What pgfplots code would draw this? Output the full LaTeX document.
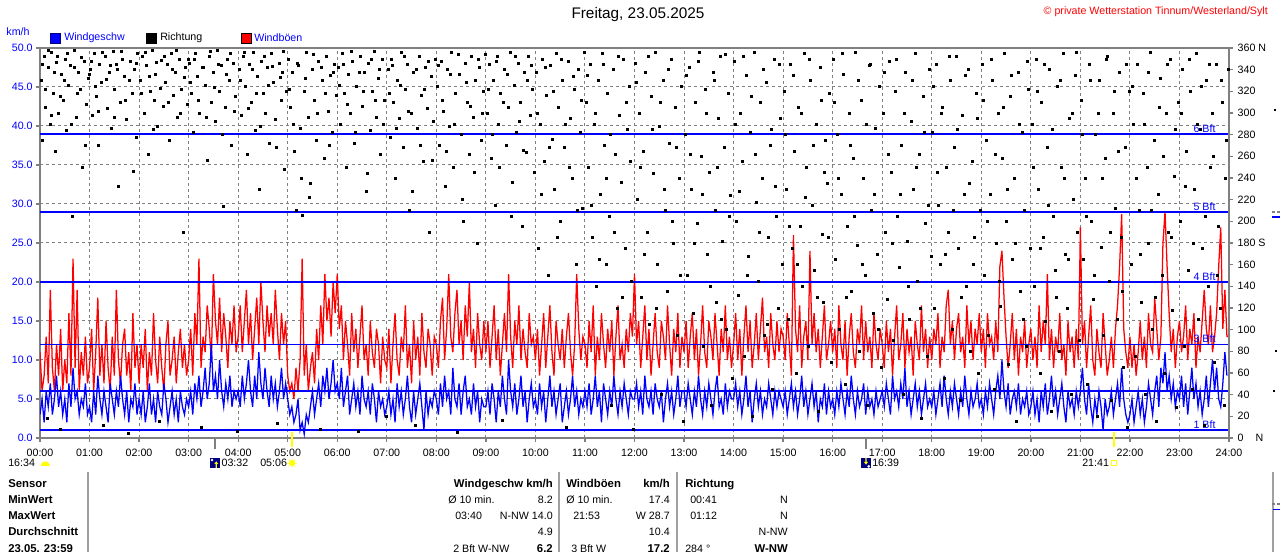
\documentclass[border=0pt]{standalone}
\usepackage{fontspec}
\setmainfont{Liberation Sans}
\usepackage{pgfplots}
\pgfplotsset{compat=1.18}
\usepackage{pgfplotstable}
\definecolor{wblue}{RGB}{0,0,255}
\definecolor{wred}{RGB}{255,0,0}
\definecolor{wgray}{RGB}{128,128,128}
\definecolor{lgray}{RGB}{160,160,160}
\definecolor{navyb}{RGB}{0,0,128}
\definecolor{sunyel}{RGB}{255,255,0}
\newcommand{\fa}{\fontsize{8}{9}\selectfont}
\newcommand{\fb}{\fontsize{8.5}{10}\selectfont\bfseries}

% gusts (km/h), one value every 2.5 min, 24 per hour
\pgfplotstableread[row sep=\\]{y\\
11\\6\\8\\13\\7\\19\\9\\6\\12\\8\\14\\6\\10\\7\\16\\8\\23\\9\\19\\6\\11\\8\\13\\7\\
9\\14\\6\\11\\18\\8\\12\\7\\15\\9\\6\\13\\8\\19\\10\\7\\12\\14\\8\\11\\6\\16\\9\\12\\
7\\12\\9\\14\\6\\11\\8\\16\\10\\7\\13\\9\\6\\12\\15\\8\\10\\13\\7\\11\\14\\9\\12\\8\\
10\\14\\8\\16\\12\\23\\9\\13\\11\\17\\14\\10\\21\\15\\12\\18\\11\\16\\13\\9\\15\\12\\17\\11\\
13\\17\\11\\15\\19\\12\\16\\10\\14\\18\\12\\20\\15\\11\\17\\13\\16\\12\\19\\14\\10\\16\\12\\15\\
8\\6\\7\\5\\9\\6\\10\\23\\8\\12\\6\\9\\11\\7\\14\\10\\17\\12\\21\\15\\18\\13\\20\\16\\
21\\14\\17\\10\\15\\12\\8\\16\\11\\14\\9\\13\\17\\10\\12\\8\\15\\11\\9\\14\\12\\7\\13\\10\\
9\\14\\7\\12\\16\\10\\8\\13\\11\\17\\9\\12\\7\\15\\10\\13\\8\\16\\11\\9\\14\\12\\8\\13\\
12\\9\\15\\18\\10\\14\\21\\13\\11\\16\\19\\12\\15\\10\\17\\13\\20\\11\\14\\9\\16\\12\\10\\15\\
11\\15\\9\\13\\17\\10\\14\\8\\12\\16\\11\\21\\13\\9\\15\\12\\17\\10\\14\\11\\9\\16\\12\\13\\
10\\14\\8\\12\\16\\9\\13\\17\\11\\8\\15\\12\\10\\14\\9\\13\\16\\11\\8\\12\\21\\14\\10\\13\\
12\\9\\15\\11\\17\\8\\13\\10\\16\\12\\9\\14\\11\\15\\8\\13\\17\\10\\12\\9\\14\\11\\16\\13\\
21\\12\\15\\9\\13\\17\\10\\14\\8\\12\\16\\11\\9\\15\\13\\10\\17\\12\\8\\14\\11\\16\\9\\13\\
11\\15\\9\\13\\16\\10\\14\\8\\12\\17\\11\\9\\15\\13\\10\\16\\12\\8\\14\\11\\17\\10\\13\\9\\
12\\16\\10\\14\\8\\13\\17\\11\\15\\9\\12\\16\\10\\14\\18\\11\\13\\9\\16\\12\\10\\15\\11\\14\\
13\\10\\16\\12\\8\\26\\14\\11\\17\\9\\13\\15\\10\\24\\12\\16\\11\\14\\9\\13\\17\\10\\12\\15\\
11\\14\\9\\17\\12\\10\\15\\8\\13\\16\\11\\9\\14\\12\\17\\10\\15\\11\\13\\9\\16\\12\\10\\14\\
12\\9\\15\\11\\14\\8\\13\\17\\10\\12\\16\\9\\14\\11\\13\\8\\15\\12\\10\\17\\11\\14\\9\\13\\
10\\14\\12\\16\\9\\13\\11\\17\\19\\12\\15\\10\\14\\16\\11\\13\\9\\17\\12\\15\\10\\14\\12\\16\\
11\\14\\9\\16\\12\\13\\10\\15\\11\\22\\24\\18\\13\\9\\12\\16\\10\\14\\8\\13\\11\\15\\9\\12\\
14\\10\\13\\9\\17\\11\\15\\12\\21\\10\\14\\9\\13\\11\\16\\10\\12\\8\\15\\11\\13\\9\\14\\10\\
27\\12\\15\\9\\13\\17\\10\\8\\14\\11\\9\\16\\12\\8\\10\\13\\9\\14\\17\\22\\28.7\\14\\11\\9\\
13\\9\\12\\8\\11\\15\\10\\13\\9\\16\\12\\11\\18\\14\\10\\13\\25\\29\\22\\16\\11\\14\\9\\13\\
15\\11\\13\\17\\10\\14\\12\\16\\9\\13\\11\\15\\19\\14\\12\\17\\11\\13\\16\\22\\27\\14\\19\\13\\
13\\
}\gust

% mean wind (km/h), one value every 2.5 min, 24 per hour
\pgfplotstableread[row sep=\\]{y\\
3\\5\\2\\6\\4\\7\\3\\5\\8\\4\\6\\3\\5\\2\\7\\4\\9\\5\\6\\3\\5\\4\\7\\3\\
4\\2\\6\\3\\8\\5\\3\\6\\4\\2\\7\\5\\3\\6\\4\\8\\5\\3\\6\\2\\5\\4\\7\\3\\
5\\3\\6\\2\\4\\7\\3\\5\\2\\6\\4\\3\\7\\5\\2\\4\\6\\3\\5\\2\\6\\4\\3\\5\\
4\\6\\3\\7\\5\\8\\4\\6\\9\\5\\7\\12\\6\\8\\5\\10\\6\\4\\7\\5\\8\\4\\6\\5\\
6\\4\\8\\5\\7\\10\\6\\4\\8\\5\\11\\7\\5\\9\\6\\4\\8\\5\\7\\4\\6\\9\\5\\7\\
5\\3\\4\\2\\3\\5\\1\\2\\0.5\\3\\2\\4\\6\\3\\5\\7\\4\\8\\6\\9\\5\\7\\10\\6\\
7\\5\\9\\4\\6\\8\\3\\5\\7\\4\\6\\3\\8\\5\\4\\6\\3\\7\\5\\2\\6\\4\\5\\3\\
4\\6\\3\\5\\2\\7\\4\\6\\3\\5\\8\\4\\2\\6\\3\\5\\7\\4\\1\\6\\3\\5\\4\\6\\
5\\3\\7\\4\\8\\5\\6\\3\\9\\5\\4\\7\\3\\6\\8\\4\\5\\3\\7\\4\\6\\2\\5\\4\\
4\\6\\3\\7\\5\\2\\6\\4\\8\\5\\3\\10\\6\\4\\7\\3\\5\\8\\4\\6\\2\\5\\7\\4\\
5\\3\\7\\4\\6\\2\\5\\8\\4\\6\\3\\5\\7\\2\\4\\6\\3\\5\\8\\4\\6\\3\\5\\4\\
6\\4\\7\\3\\5\\8\\4\\6\\2\\7\\5\\3\\6\\4\\8\\5\\3\\6\\4\\7\\5\\3\\6\\5\\
5\\7\\4\\6\\3\\8\\5\\4\\6\\3\\7\\5\\4\\6\\2\\5\\7\\4\\6\\3\\5\\8\\4\\6\\
6\\4\\7\\5\\3\\6\\4\\8\\5\\3\\6\\4\\7\\5\\3\\6\\8\\4\\5\\3\\7\\4\\6\\5\\
5\\7\\4\\6\\3\\5\\8\\4\\6\\2\\5\\7\\4\\6\\3\\5\\4\\7\\5\\3\\6\\4\\6\\5\\
4\\6\\3\\5\\7\\4\\6\\3\\5\\8\\4\\6\\3\\5\\7\\4\\6\\2\\5\\4\\7\\3\\6\\4\\
5\\3\\6\\4\\7\\5\\3\\6\\4\\8\\5\\3\\6\\4\\5\\7\\3\\6\\4\\5\\3\\6\\4\\5\\
6\\4\\7\\5\\3\\8\\5\\6\\4\\7\\5\\9\\4\\6\\3\\5\\7\\4\\6\\3\\5\\7\\4\\5\\
4\\6\\3\\5\\7\\4\\8\\5\\3\\6\\4\\7\\5\\3\\6\\4\\8\\5\\3\\6\\4\\5\\7\\4\\
5\\3\\6\\4\\7\\5\\3\\6\\8\\5\\10\\6\\4\\7\\3\\5\\6\\4\\7\\3\\5\\4\\6\\3\\
4\\6\\3\\5\\2\\6\\4\\7\\3\\5\\8\\4\\6\\3\\5\\7\\4\\2\\6\\4\\5\\3\\6\\4\\
6\\9\\5\\3\\7\\4\\2\\5\\3\\6\\4\\1\\5\\3\\4\\6\\3\\5\\7\\4\\9\\5\\3\\2\\
3\\5\\2\\4\\6\\3\\5\\2\\4\\7\\5\\3\\6\\8\\4\\9\\7\\11\\6\\8\\5\\7\\4\\6\\
5\\8\\4\\7\\3\\6\\9\\5\\7\\4\\6\\3\\5\\8\\4\\7\\10\\6\\9\\5\\4\\7\\11\\8\\
}\wind

\begin{document}
\begin{tikzpicture}
\useasboundingbox (0,0) rectangle (960pt,414pt);

\begin{axis}[
  at={(30pt,85.5pt)}, anchor=south west, scale only axis,
  width=891.75pt, height=292.5pt,
  xmin=0, xmax=24, ymin=0, ymax=50,
  xtick={0,1,...,24},
  xticklabels={00:00,01:00,02:00,03:00,04:00,05:00,06:00,07:00,08:00,09:00,10:00,11:00,12:00,13:00,14:00,15:00,16:00,17:00,18:00,19:00,20:00,21:00,22:00,23:00,24:00},
  ytick={0,5,...,50},
  yticklabels={0.0,5.0,10.0,15.0,20.0,25.0,30.0,35.0,40.0,45.0,50.0},
  xtick pos=bottom, ytick pos=left,
  tick align=outside, major tick length=3pt,
  tick style={draw=wgray, line width=1pt},
  grid=major,
  major grid style={draw=wgray, dash pattern=on 2.25pt off 2.25pt, line width=0.75pt},
  axis line style={draw=wgray, line width=2pt},
  yticklabel style={text=wblue, font=\fa, xshift=1pt},
  xticklabel style={text=black, font=\fa, yshift=-1.5pt},
]
\addplot[draw=wred, fill=none, line width=0.95pt, mark=none] table[x expr=\coordindex/24, y index=0] {\gust};
\addplot[draw=wblue, fill=none, line width=0.95pt, mark=none] table[x expr=\coordindex/24, y index=0] {\wind};
\addplot[draw=wblue, line width=1.2pt, mark=none] coordinates {(0,1)(24,1)};
\addplot[draw=wblue, line width=1.2pt, mark=none] coordinates {(0,6)(24,6)};
\addplot[draw=wblue, line width=1.2pt, mark=none] coordinates {(0,12)(24,12)};
\addplot[draw=wblue, line width=1.2pt, mark=none] coordinates {(0,20)(24,20)};
\addplot[draw=wblue, line width=1.2pt, mark=none] coordinates {(0,29)(24,29)};
\addplot[draw=wblue, line width=1.2pt, mark=none] coordinates {(0,39)(24,39)};
\node[text=wblue, font=\fa, anchor=south east, inner sep=1pt] at (axis cs:23.76,1) {1 Bft};
\node[text=wblue, font=\fa, anchor=south east, inner sep=1pt] at (axis cs:23.76,12) {3 Bft};
\node[text=wblue, font=\fa, anchor=south east, inner sep=1pt] at (axis cs:23.76,20) {4 Bft};
\node[text=wblue, font=\fa, anchor=south east, inner sep=1pt] at (axis cs:23.76,29) {5 Bft};
\node[text=wblue, font=\fa, anchor=south east, inner sep=1pt] at (axis cs:23.76,39) {6 Bft};
\end{axis}

\begin{axis}[
  at={(30pt,85.5pt)}, anchor=south west, scale only axis,
  width=891.75pt, height=292.5pt,
  xmin=0, xmax=24, ymin=0, ymax=360,
  axis x line=none, axis y line*=right,
  ytick={0,20,...,360},
  yticklabels={0\hspace{9pt}N,20,40,60,80,100,120,140,160,180 S,200,220,240,260,280,300,320,340,360 N},
  tick align=outside, major tick length=3pt,
  tick style={draw=wgray, line width=1pt},
  axis line style={draw=wgray, line width=2pt},
  yticklabel style={text=black, font=\fa, anchor=west},
]
\addplot[only marks, mark=square*, mark size=0.75pt, mark options={draw=none, fill=black}] coordinates {
(0.02,330)(0.05,275)(0.08,352)(0.11,305)(0.14,18)(0.17,342)(0.2,290)(0.23,356)(0.27,318)(0.3,265)(0.33,347)(0.36,300)(0.4,8)(0.43,336)(0.47,312)(0.5,350)(0.54,284)(0.58,326)(0.62,344)(0.66,205)(0.7,358)(0.74,296)(0.78,338)(0.82,322)(0.86,250)(0.9,348)(0.94,308)(0.97,332)
(1.02,340)(1.06,298)(1.1,355)(1.13,315)(1.17,270)(1.2,345)(1.24,328)(1.28,12)(1.31,352)(1.35,304)(1.39,338)(1.43,286)(1.47,357)(1.5,322)(1.54,345)(1.58,232)(1.62,310)(1.66,350)(1.7,334)(1.74,294)(1.78,4)(1.82,348)(1.86,318)(1.9,340)(1.94,278)(1.97,355)
(2.03,330)(2.07,352)(2.1,300)(2.14,344)(2.18,262)(2.22,320)(2.26,358)(2.3,312)(2.33,336)(2.37,288)(2.41,15)(2.45,349)(2.49,306)(2.53,328)(2.57,345)(2.61,275)(2.65,355)(2.69,316)(2.73,338)(2.77,296)(2.81,350)(2.85,322)(2.89,190)(2.93,342)(2.97,308)
(3.02,346)(3.06,318)(3.1,282)(3.14,355)(3.18,334)(3.22,300)(3.26,10)(3.3,342)(3.34,326)(3.38,256)(3.42,352)(3.46,310)(3.5,338)(3.54,292)(3.58,358)(3.62,320)(3.66,344)(3.7,214)(3.74,305)(3.78,350)(3.82,330)(3.86,270)(3.9,346)(3.94,315)(3.98,6)
(4.02,340)(4.06,298)(4.1,352)(4.14,325)(4.18,262)(4.22,345)(4.26,310)(4.3,356)(4.34,284)(4.38,334)(4.42,230)(4.46,348)(4.5,318)(4.54,300)(4.58,342)(4.62,272)(4.66,355)(4.7,328)(4.74,294)(4.78,14)(4.82,346)(4.86,312)(4.9,338)(4.94,248)(4.98,320)
(5.02,350)(5.06,305)(5.1,338)(5.14,265)(5.18,210)(5.22,344)(5.26,286)(5.3,206)(5.34,320)(5.38,356)(5.42,296)(5.46,235)(5.5,340)(5.54,312)(5.58,275)(5.62,348)(5.66,8)(5.7,330)(5.74,258)(5.78,352)(5.82,302)(5.86,335)(5.9,282)(5.94,345)(5.98,316)
(6.02,342)(6.06,290)(6.1,355)(6.14,318)(6.18,250)(6.22,336)(6.26,300)(6.3,348)(6.34,272)(6.38,325)(6.42,6)(6.46,352)(6.5,306)(6.54,338)(6.58,228)(6.62,346)(6.66,284)(6.7,320)(6.74,357)(6.78,296)(6.82,332)(6.86,262)(6.9,350)(6.94,312)(6.98,20)
(7.02,340)(7.06,278)(7.1,350)(7.14,310)(7.18,240)(7.22,330)(7.26,295)(7.3,356)(7.34,268)(7.38,322)(7.42,345)(7.46,210)(7.5,300)(7.54,338)(7.58,12)(7.62,286)(7.66,352)(7.7,316)(7.74,255)(7.78,342)(7.82,304)(7.86,190)(7.9,334)(7.94,292)(7.98,350)
(8.02,325)(8.06,270)(8.1,348)(8.14,302)(8.18,232)(8.22,340)(8.26,288)(8.3,356)(8.34,250)(8.38,318)(8.42,5)(8.46,336)(8.5,280)(8.54,200)(8.58,346)(8.62,310)(8.66,262)(8.7,352)(8.74,296)(8.78,330)(8.82,180)(8.86,342)(8.9,275)(8.94,320)(8.98,354)
(9.02,300)(9.06,345)(9.1,258)(9.14,330)(9.18,215)(9.22,352)(9.26,290)(9.3,318)(9.34,16)(9.38,340)(9.42,270)(9.46,305)(9.5,356)(9.54,236)(9.58,326)(9.62,282)(9.66,346)(9.7,310)(9.74,195)(9.78,338)(9.82,264)(9.86,352)(9.9,298)(9.94,322)(9.98,245)
(10.02,338)(10.06,175)(10.1,290)(10.14,350)(10.18,255)(10.22,316)(10.26,150)(10.3,344)(10.34,276)(10.38,230)(10.42,355)(10.46,305)(10.5,200)(10.54,330)(10.58,268)(10.62,10)(10.66,348)(10.7,295)(10.74,240)(10.78,322)(10.82,160)(10.86,340)(10.9,282)(10.94,212)(10.98,356)
(11.02,310)(11.06,250)(11.1,345)(11.14,185)(11.18,290)(11.22,140)(11.26,330)(11.3,225)(11.34,355)(11.38,270)(11.42,160)(11.46,318)(11.5,205)(11.54,30)(11.58,340)(11.62,262)(11.66,120)(11.7,298)(11.74,236)(11.78,350)(11.82,175)(11.86,285)(11.9,325)(11.94,145)(11.98,8)
(12.02,346)(12.06,220)(12.1,300)(12.14,130)(12.18,265)(12.22,338)(12.26,190)(12.3,105)(12.34,315)(12.38,244)(12.42,356)(12.46,160)(12.5,288)(12.54,40)(12.58,330)(12.62,210)(12.66,135)(12.7,272)(12.74,350)(12.78,180)(12.82,305)(12.86,95)(12.9,240)(12.94,325)(12.98,15)
(13.02,280)(13.06,150)(13.1,342)(13.14,230)(13.18,115)(13.22,310)(13.26,198)(13.3,356)(13.34,260)(13.38,85)(13.42,322)(13.46,170)(13.5,245)(13.54,30)(13.58,338)(13.62,210)(13.66,125)(13.7,295)(13.74,352)(13.78,182)(13.82,268)(13.86,100)(13.9,318)(13.94,224)(13.98,55)
(14.02,348)(14.06,200)(14.1,132)(14.14,300)(14.18,255)(14.22,75)(14.26,335)(14.3,168)(14.34,282)(14.38,20)(14.42,356)(14.46,218)(14.5,145)(14.54,310)(14.58,240)(14.62,95)(14.66,328)(14.7,185)(14.74,270)(14.78,45)(14.82,350)(14.86,205)(14.9,120)(14.94,295)(14.98,160)
(15.02,320)(15.06,230)(15.1,110)(15.14,345)(15.18,175)(15.22,265)(15.26,60)(15.3,305)(15.34,195)(15.38,140)(15.42,355)(15.46,250)(15.5,85)(15.54,330)(15.58,215)(15.62,155)(15.66,290)(15.7,25)(15.74,342)(15.78,188)(15.82,125)(15.86,275)(15.9,235)(15.94,318)(15.98,70)
(16.02,350)(16.06,165)(16.1,280)(16.14,100)(16.18,225)(16.22,336)(16.26,50)(16.3,195)(16.34,300)(16.38,135)(16.42,258)(16.46,356)(16.5,178)(16.54,80)(16.58,312)(16.62,240)(16.66,150)(16.7,30)(16.74,344)(16.78,210)(16.82,115)(16.86,286)(16.9,170)(16.94,325)(16.98,65)
(17.02,300)(17.06,190)(17.1,128)(17.14,348)(17.18,245)(17.22,90)(17.26,320)(17.3,205)(17.34,158)(17.38,270)(17.42,40)(17.46,338)(17.5,182)(17.54,110)(17.58,292)(17.62,230)(17.66,355)(17.7,145)(17.74,262)(17.78,18)(17.82,315)(17.86,198)(17.9,75)(17.94,340)(17.98,168)
(18.02,282)(18.06,120)(18.1,345)(18.14,215)(18.18,160)(18.22,305)(18.26,55)(18.3,250)(18.34,190)(18.38,330)(18.42,100)(18.46,268)(18.5,352)(18.54,175)(18.58,35)(18.62,298)(18.66,225)(18.7,140)(18.74,340)(18.78,80)(18.82,255)(18.86,185)(18.9,318)(18.94,60)(18.98,210)
(19.02,345)(19.06,150)(19.1,275)(19.14,95)(19.18,225)(19.22,330)(19.26,45)(19.3,180)(19.34,300)(19.38,122)(19.42,258)(19.46,355)(19.5,200)(19.54,68)(19.58,315)(19.62,165)(19.66,240)(19.7,15)(19.74,338)(19.78,135)(19.82,282)(19.86,210)(19.9,85)(19.94,322)(19.98,175)
(20.02,290)(20.06,140)(20.1,350)(20.14,230)(20.18,60)(20.22,310)(20.26,185)(20.3,108)(20.34,268)(20.38,340)(20.42,25)(20.46,205)(20.5,155)(20.54,325)(20.58,80)(20.62,250)(20.66,355)(20.7,170)(20.74,120)(20.78,295)(20.82,40)(20.86,220)(20.9,335)(20.94,190)(20.98,90)
(21.02,312)(21.06,165)(21.1,240)(21.14,50)(21.18,345)(21.22,200)(21.26,128)(21.3,280)(21.34,20)(21.38,330)(21.42,176)(21.46,95)(21.5,258)(21.54,352)(21.58,145)(21.62,35)(21.66,300)(21.7,212)(21.74,110)(21.78,338)(21.82,185)(21.86,65)(21.9,268)(21.94,10)(21.98,320)
(22.02,160)(22.06,290)(22.1,75)(22.14,345)(22.18,210)(22.22,125)(22.26,318)(22.3,40)(22.34,250)(22.38,180)(22.42,356)(22.46,100)(22.5,275)(22.54,15)(22.58,225)(22.62,332)(22.66,150)(22.7,60)(22.74,300)(22.78,190)(22.82,350)(22.86,118)(22.9,242)(22.94,28)(22.98,310)
(23.02,200)(23.06,340)(23.1,85)(23.14,265)(23.18,155)(23.22,320)(23.26,45)(23.3,230)(23.34,355)(23.38,110)(23.42,285)(23.46,175)(23.5,12)(23.54,330)(23.58,140)(23.62,250)(23.66,300)(23.7,70)(23.74,345)(23.78,195)(23.82,120)(23.86,310)(23.9,30)(23.94,275)(23.98,340)
};
\addplot[only marks, mark=square*, mark size=0.75pt, mark options={draw=none, fill=black}] coordinates {
(0.04,345)(0.1,322)(0.16,358)(0.22,298)(0.29,338)(0.35,352)(0.41,315)(0.48,330)(0.56,355)(0.63,290)(0.69,342)(0.76,318)(0.84,351)(0.92,270)(0.99,336)
(1.04,348)(1.11,325)(1.18,302)(1.26,356)(1.33,331)(1.41,344)(1.49,296)(1.56,340)(1.64,357)(1.72,312)(1.8,330)(1.88,246)(1.95,346)
(2.05,318)(2.12,356)(2.2,334)(2.28,285)(2.35,347)(2.43,323)(2.51,352)(2.59,310)(2.67,340)(2.75,358)(2.83,300)(2.91,333)(2.99,350)
(3.04,328)(3.12,350)(3.2,312)(3.28,342)(3.36,296)(3.44,357)(3.52,324)(3.6,345)(3.68,280)(3.76,336)(3.84,355)(3.92,302)
(4.04,330)(4.12,356)(4.2,304)(4.28,340)(4.36,318)(4.44,288)(4.52,352)(4.6,326)(4.68,343)(4.76,268)(4.84,333)(4.92,357)
(5.04,322)(5.12,290)(5.2,346)(5.28,240)(5.36,332)(5.44,222)(5.52,354)(5.6,300)(5.68,342)(5.76,318)(5.84,270)(5.92,338)
(6.04,326)(6.12,345)(6.2,308)(6.28,357)(6.36,282)(6.44,338)(6.52,320)(6.6,244)(6.68,350)(6.76,312)(6.84,340)(6.92,290)
(7.04,318)(7.12,344)(7.2,286)(7.28,326)(7.36,352)(7.44,302)(7.52,228)(7.6,340)(7.68,270)(7.76,322)(7.84,348)(7.92,256)
(8.04,344)(8.12,312)(8.2,265)(8.28,336)(8.36,290)(8.44,354)(8.52,220)(8.6,328)(8.68,306)(8.76,245)(8.84,350)(8.92,300)
(9.04,322)(9.12,280)(9.2,348)(9.28,250)(9.36,310)(9.44,336)(9.52,205)(9.6,352)(9.68,292)(9.76,266)(9.84,330)(9.92,344)
(10.04,300)(10.12,225)(10.2,342)(10.28,268)(10.36,320)(10.44,185)(10.52,350)(10.6,290)(10.68,250)(10.76,334)(10.84,210)(10.92,312)
(11.04,335)(11.12,215)(11.2,300)(11.28,165)(11.36,345)(11.44,240)(11.52,280)(11.6,190)(11.68,352)(11.76,130)(11.84,310)(11.92,255)
(12.04,328)(12.12,250)(12.2,170)(12.28,352)(12.36,285)(12.44,120)(12.52,310)(12.6,230)(12.68,340)(12.76,200)(12.84,268)(12.92,150)
(13.04,335)(13.12,262)(13.2,180)(13.28,348)(13.36,225)(13.44,300)(13.52,140)(13.6,330)(13.68,250)(13.76,110)(13.84,354)(13.92,205)
(14.04,290)(14.12,228)(14.2,352)(14.28,150)(14.36,315)(14.44,262)(14.52,190)(14.6,340)(14.68,105)(14.76,285)(14.84,232)(14.92,345)
(15.04,280)(15.12,195)(15.2,335)(15.28,160)(15.36,300)(15.44,222)(15.52,350)(15.6,270)(15.68,130)(15.76,312)(15.84,245)(15.92,185)
(16.04,310)(16.12,240)(16.2,355)(16.28,130)(16.36,270)(16.44,205)(16.52,330)(16.6,160)(16.68,290)(16.76,345)(16.84,225)(16.92,100)
(17.04,338)(17.12,262)(17.2,180)(17.28,350)(17.36,225)(17.44,300)(17.52,140)(17.6,330)(17.68,250)(17.76,120)(17.84,282)(17.92,215)
(18.04,325)(18.12,245)(18.2,300)(18.28,170)(18.36,352)(18.44,210)(18.52,285)(18.6,130)(18.68,335)(18.76,235)(18.84,160)(18.92,295)
(19.04,312)(19.12,200)(19.2,350)(19.28,262)(19.36,145)(19.44,305)(19.52,230)(19.6,335)(19.68,180)(19.76,290)(19.84,110)(19.92,348)
(20.04,250)(20.12,320)(20.2,175)(20.28,345)(20.36,215)(20.44,285)(20.52,130)(20.6,330)(20.68,240)(20.76,165)(20.84,300)(20.92,356)
(21.04,280)(21.12,205)(21.2,330)(21.28,150)(21.36,300)(21.44,240)(21.52,350)(21.6,190)(21.68,320)(21.76,265)(21.84,135)(21.92,345)
(22.04,325)(22.12,240)(22.2,170)(22.28,290)(22.36,338)(22.44,210)(22.52,130)(22.6,305)(22.68,260)(22.76,345)(22.84,185)(22.92,285)
(23.04,300)(23.12,232)(23.2,350)(23.28,180)(23.36,290)(23.44,325)(23.52,205)(23.6,345)(23.68,260)(23.76,150)(23.84,330)(23.92,240)
};
\end{axis}

% title, copyright, legend
\node[font=\fontsize{11.5}{13}\selectfont] at (478.5pt,402.75pt) {Freitag, 23.05.2025};
\node[text=wred, font=\fa, anchor=east, inner sep=0pt] at (951pt,405pt) {© private Wetterstation Tinnum/Westerland/Sylt};
\node[text=wblue, font=\fa, inner sep=0pt] at (13.5pt,390pt) {km/h};
\filldraw[fill=wblue, draw=navyb, line width=0.4pt] (37.5pt,381.75pt) rectangle (45pt,389.25pt);
\node[text=wblue, font=\fa, anchor=west, inner sep=0pt] at (48pt,385.5pt) {Windgeschw};
\filldraw[fill=black, draw=black, line width=0.4pt] (109.5pt,381.75pt) rectangle (117pt,389.25pt);
\node[text=black, font=\fa, anchor=west, inner sep=0pt] at (120pt,385.5pt) {Richtung};
\filldraw[fill=wred, draw=black, line width=0.4pt] (180.75pt,381.75pt) rectangle (188.25pt,389.25pt);
\node[text=wblue, font=\fa, anchor=west, inner sep=0pt] at (190.5pt,385.5pt) {Windböen};

% moon/sun markers at the axis
\draw[draw=wgray, line width=2.2pt] (161.25pt,77.25pt) -- (161.25pt,85.5pt);
\draw[draw=wgray, line width=2.2pt] (649.5pt,77.25pt) -- (649.5pt,85.5pt);
\draw[draw=sunyel, line width=1.6pt] (219pt,78.75pt) -- (219pt,90pt);
\draw[draw=sunyel, line width=1.6pt] (835.5pt,78.75pt) -- (835.5pt,90pt);

% sun / moon row
\node[font=\fa, anchor=west, inner sep=0pt] at (6pt,66.75pt) {16:34};
\fill[fill=sunyel] (30.5pt,64.5pt) arc[start angle=180, end angle=0, radius=3.5pt] -- cycle;
\fill[fill=navyb] (157.5pt,63pt) rectangle (165pt,70.5pt);
\fill[fill=white] (159pt,69pt) circle (1.1pt);
\fill[fill=sunyel] (161.7pt,63pt) -- (161.7pt,66pt) -- (160.7pt,66pt) -- (162.2pt,68pt) -- (163.7pt,66pt) -- (162.7pt,66pt) -- (162.7pt,63pt) -- cycle;
\node[font=\fa, anchor=west, inner sep=0pt] at (166pt,66.75pt) {03:32};
\node[font=\fa, anchor=west, inner sep=0pt] at (195pt,66.75pt) {05:06};
\foreach \a in {0,45,...,315} \draw[draw=sunyel!60, line width=0.6pt] (219pt,66.75pt) -- ++(\a:3.6pt);
\fill[fill=sunyel] (219pt,66.75pt) circle (2.3pt);
\fill[fill=navyb] (645.75pt,63pt) rectangle (653.25pt,70.5pt);
\fill[fill=white] (651.5pt,64.2pt) circle (1.1pt);
\fill[fill=sunyel] (649pt,70.5pt) -- (649pt,67.5pt) -- (648pt,67.5pt) -- (649.5pt,65.5pt) -- (651pt,67.5pt) -- (650pt,67.5pt) -- (650pt,70.5pt) -- cycle;
\node[font=\fa, anchor=west, inner sep=0pt] at (654pt,66.75pt) {16:39};
\node[font=\fa, anchor=west, inner sep=0pt] at (811.5pt,66.75pt) {21:41};
\draw[draw=sunyel, line width=0.8pt] (833.9pt,65.15pt) rectangle (837.1pt,68.35pt);

% table
\draw[draw=lgray, line width=1.5pt] (66pt,0pt) -- (66pt,60pt);
\draw[draw=lgray, line width=1.5pt] (419.25pt,0pt) -- (419.25pt,60pt);
\draw[draw=lgray, line width=1.5pt] (507.75pt,0pt) -- (507.75pt,60pt);
\begin{scope}[every node/.style={inner sep=0pt}]
\node[font=\fb, anchor=mid west] at (6pt,51pt) {Sensor};
\node[font=\fb, anchor=mid west] at (6pt,39pt) {MinWert};
\node[font=\fb, anchor=mid west] at (6pt,27pt) {MaxWert};
\node[font=\fb, anchor=mid west] at (6pt,15pt) {Durchschnitt};
\node[font=\fb, anchor=mid west] at (6pt,2.6pt) {23.05. 23:59};
\node[font=\fb, anchor=mid east] at (414.75pt,51pt) {Windgeschw km/h};
\node[font=\fb, anchor=mid west] at (424.5pt,51pt) {Windböen};
\node[font=\fb, anchor=mid east] at (502.5pt,51pt) {km/h};
\node[font=\fb, anchor=mid west] at (513.75pt,51pt) {Richtung};
\node[font=\fa, anchor=mid west] at (336pt,39pt) {Ø 10 min.};
\node[font=\fa, anchor=mid east] at (414.75pt,39pt) {8.2};
\node[font=\fa, anchor=mid west] at (424.5pt,39pt) {Ø 10 min.};
\node[font=\fa, anchor=mid east] at (502.5pt,39pt) {17.4};
\node[font=\fa, anchor=mid west] at (517.5pt,39pt) {00:41};
\node[font=\fa, anchor=mid east] at (591pt,39pt) {N};
\node[font=\fa, anchor=mid west] at (341.25pt,27pt) {03:40};
\node[font=\fa, anchor=mid east] at (414.75pt,27pt) {N-NW 14.0};
\node[font=\fa, anchor=mid west] at (429.75pt,27pt) {21:53};
\node[font=\fa, anchor=mid east] at (502.5pt,27pt) {W 28.7};
\node[font=\fa, anchor=mid west] at (517.5pt,27pt) {01:12};
\node[font=\fa, anchor=mid east] at (591pt,27pt) {N};
\node[font=\fa, anchor=mid east] at (414.75pt,15pt) {4.9};
\node[font=\fa, anchor=mid east] at (502.5pt,15pt) {10.4};
\node[font=\fa, anchor=mid east] at (591pt,15pt) {N-NW};
\node[font=\fa, anchor=mid west] at (339.75pt,2.6pt) {2 Bft W-NW};
\node[font=\fb, anchor=mid east] at (414.75pt,2.6pt) {6.2};
\node[font=\fa, anchor=mid west] at (428.25pt,2.6pt) {3 Bft W};
\node[font=\fb, anchor=mid east] at (502.5pt,2.6pt) {17.2};
\node[font=\fa, anchor=mid west] at (513.75pt,2.6pt) {284 °};
\node[font=\fb, anchor=mid east] at (591pt,2.6pt) {W-NW};
\end{scope}

% fragments of the neighbouring chart at the right edge
\fill[fill=black] (955.5pt,330.75pt) rectangle ++(1.5pt,1.5pt);
\draw[draw=wgray, dash pattern=on 2pt off 2pt, line width=0.8pt] (954pt,255pt) -- (960pt,255pt);
\draw[draw=wblue, line width=1.2pt] (954pt,251.25pt) -- (960pt,251.25pt);
\fill[fill=black] (956pt,150pt) rectangle ++(1.5pt,1.5pt);
\fill[fill=black] (955pt,120pt) rectangle ++(1.5pt,1.5pt);
\draw[draw=lgray, line width=1.5pt] (955pt,0pt) -- (955pt,60pt);
\draw[draw=wgray, dash pattern=on 2pt off 2pt, line width=0.8pt] (954pt,36pt) -- (960pt,36pt);
\draw[draw=wblue, line width=1.2pt] (955pt,32pt) -- (960pt,32pt);
\end{tikzpicture}
\end{document}
